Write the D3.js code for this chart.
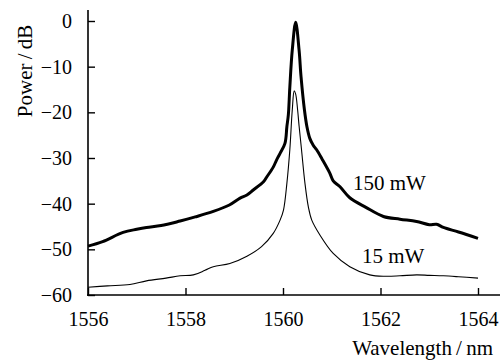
<!DOCTYPE html>
<html><head><meta charset="utf-8">
<script src="https://cdn.jsdelivr.net/npm/d3@7"></script>
<style>
html,body{margin:0;padding:0;background:#fff;}
svg{display:block;font-family:"Liberation Serif","Times New Roman",serif;}
</style></head>
<body><svg id="c" width="502" height="360"></svg>
<script>
const xTicks = [1556, 1558, 1560, 1562, 1564];
const yTicks = [0, -10, -20, -30, -40, -50, -60];
const xLabel = "Wavelength\u2009/\u2009nm";
const yLabel = "Power\u2009/\u2009dB";
const seriesNames = ["150 mW", "15 mW"];

const wl150 = [1556.0,1556.3,1556.72,1557.0,1557.2,1557.5,1557.89,1558.2,1558.57,1558.9,1559.12,1559.26,1559.39,1559.6,1559.67,1559.8,1559.87,1559.94,1560.04,1560.08,1560.11,1560.14,1560.19,1560.26,1560.33,1560.37,1560.44,1560.49,1560.55,1560.62,1560.69,1560.8,1560.96,1561.03,1561.17,1561.37,1561.7,1562.06,1562.4,1562.74,1563.0,1563.15,1563.29,1563.6,1564.0];
const db150 = [-49.3,-48.3,-46.3,-45.6,-45.2,-44.8,-43.8,-42.9,-41.7,-40.3,-38.8,-38.1,-37.0,-35.2,-34.1,-32.0,-30.4,-29.0,-26.8,-23.1,-20.5,-14.5,-6.4,-0.3,-6.4,-12.2,-19.5,-23.1,-25.7,-27.2,-28.2,-30.2,-33.3,-35.0,-36.3,-38.7,-40.8,-42.8,-43.4,-43.9,-44.6,-44.5,-45.2,-46.2,-47.6];

const wl15 = [1556.0,1556.4,1556.86,1557.2,1557.6,1557.89,1558.16,1558.4,1558.57,1558.91,1559.26,1559.56,1559.8,1559.94,1560.01,1560.08,1560.14,1560.19,1560.23,1560.26,1560.30,1560.33,1560.38,1560.45,1560.52,1560.59,1560.76,1561.03,1561.37,1561.78,1562.1,1562.4,1562.74,1563.0,1563.29,1563.6,1564.0];
const db15 = [-58.3,-58.0,-57.7,-56.9,-56.3,-55.8,-55.6,-54.6,-53.8,-53.1,-51.5,-49.4,-46.5,-43.6,-41.4,-35.5,-28.2,-19.5,-15.3,-16.0,-19.5,-23.0,-28.2,-35.5,-40.7,-43.6,-46.9,-50.9,-53.8,-55.6,-55.9,-55.8,-55.6,-55.7,-55.8,-56.0,-56.3];

const svg = d3.select("#c");
const x = d3.scaleLinear().domain([1556, 1564]).range([88, 478]);
const y = d3.scaleLinear().domain([-60, 0]).range([295, 21]);
const fmt = d => (d < 0 ? "\u2212" + Math.abs(d) : String(d));

// axes
const xAxis = d3.axisBottom(x).tickValues(xTicks).tickSize(-7).tickSizeOuter(0).tickFormat(d3.format("d"));
const gx = svg.append("g").attr("transform", "translate(0,295)").call(xAxis);
gx.select(".domain").remove();
gx.append("line").attr("x1", 87).attr("x2", 500).attr("y1", 0).attr("y2", 0).attr("stroke", "#000").attr("stroke-width", 1.6);
gx.selectAll(".tick line").attr("stroke-width", 1.4);
gx.selectAll(".tick text").attr("font-size", 20).attr("font-family", "Liberation Serif").attr("fill", "#000").attr("y", 31).attr("dy", 0);

const yAxis = d3.axisLeft(y).tickValues(yTicks).tickSize(-7).tickSizeOuter(0).tickPadding(16).tickFormat(fmt);
const gy = svg.append("g").attr("transform", "translate(88,0)").call(yAxis);
gy.select(".domain").remove();
gy.append("line").attr("x1", 0).attr("x2", 0).attr("y1", 10).attr("y2", 296).attr("stroke", "#000").attr("stroke-width", 1.6);
gy.selectAll(".tick line").attr("stroke-width", 1.4);
gy.selectAll(".tick text").attr("font-size", 20).attr("font-family", "Liberation Serif").attr("fill", "#000");

// lines
const line = d3.line().x(d => x(d[0])).y(d => y(d[1])).curve(d3.curveCatmullRom.alpha(0.5));
svg.append("path").datum(wl150.map((w, i) => [w, db150[i]]))
  .attr("d", line).attr("fill", "none").attr("stroke", "#000").attr("stroke-width", 3).attr("stroke-linejoin", "round");
svg.append("path").datum(wl15.map((w, i) => [w, db15[i]]))
  .attr("d", line).attr("fill", "none").attr("stroke", "#000").attr("stroke-width", 1.1).attr("stroke-linejoin", "round");

// labels
svg.append("text").attr("x", 353).attr("y", 190).attr("font-size", 21).text(seriesNames[0]);
svg.append("text").attr("x", 362).attr("y", 263).attr("font-size", 21).text(seriesNames[1]);
svg.append("text").attr("x", 493).attr("y", 355).attr("text-anchor", "end").attr("font-size", 21).text(xLabel);
svg.append("text").attr("transform", "translate(32,71) rotate(-90)").attr("text-anchor", "middle").attr("font-size", 21).text(yLabel);
</script></body></html>
